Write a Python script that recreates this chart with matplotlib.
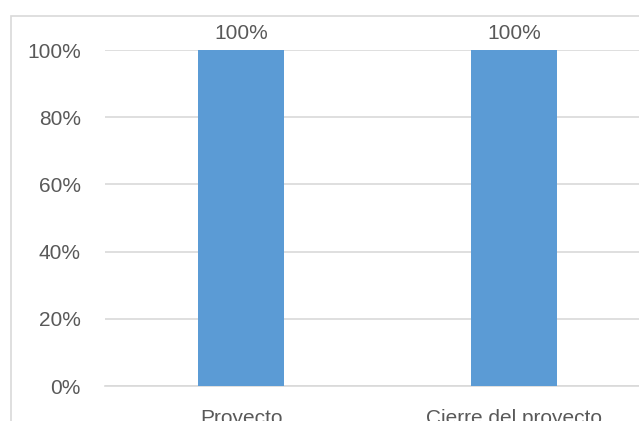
import matplotlib
matplotlib.use("Agg")
from matplotlib import pyplot as plt
from matplotlib.patches import Rectangle

categories = ["Proyecto", "Cierre del proyecto"]
values = [100, 100]
yticks = [0, 20, 40, 60, 80, 100]
ytick_labels = ["0%", "20%", "40%", "60%", "80%", "100%"]

plt.rcParams['font.family'] = ['Liberation Sans', 'DejaVu Sans']
text_color = "#595959"
grid_color = "#d9d9d9"

fig = plt.figure(figsize=(6.39, 4.21), dpi=100)

# chart border (runs off the right and bottom edge)
fig.patches.append(Rectangle((11 / 639, -0.1), 1.0, 1 - 16 / 421 + 0.1,
                             transform=fig.transFigure, fill=False,
                             edgecolor=grid_color, linewidth=1.2))

ax = fig.add_axes([104.5 / 639, 1 - 386 / 421, 546 / 639, 336 / 421])
x = range(len(categories))
bars = ax.bar(x, values, width=0.315, color="#5b9bd5", zorder=3)

ax.set_xlim(-0.5, 1.5)
ax.set_ylim(0, 100)
ax.set_yticks(yticks)
ax.set_yticklabels(ytick_labels)
ax.set_xticks(list(x))
ax.set_xticklabels(categories)
ax.yaxis.grid(True, color=grid_color, linewidth=1.2, zorder=0)
ax.tick_params(axis="y", length=0, pad=17, labelsize=15, labelcolor=text_color)
ax.tick_params(axis="x", length=0, pad=16.5, labelsize=15, labelcolor=text_color)
for s in ["top", "right", "left"]:
    ax.spines[s].set_visible(False)
ax.spines["bottom"].set_color(grid_color)
ax.spines["bottom"].set_linewidth(1.2)

for b, v in zip(bars, values):
    ax.annotate("%d%%" % v, (b.get_x() + b.get_width() / 2, v),
                xytext=(0, 5), textcoords="offset points",
                ha="center", va="bottom", fontsize=15, color=text_color)

plt.savefig("out.png", dpi=100)
